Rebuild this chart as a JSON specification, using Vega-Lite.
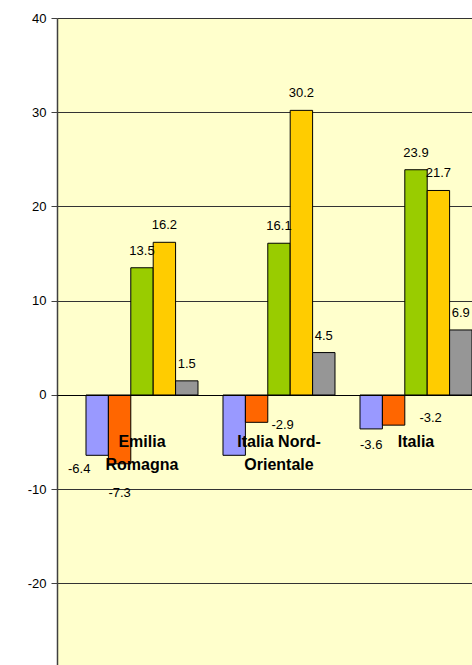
{
  "$schema": "https://vega.github.io/schema/vega-lite/v6.json",
  "width": 415,
  "height": 647,
  "autosize": {"type": "none"},
  "padding": {"left": 57, "top": 18, "right": 0, "bottom": 0},
  "background": "white",
  "config": {
    "view": {"stroke": null, "fill": "#FFFFCC"},
    "font": "Liberation Sans",
    "locale": {"number": {"decimal": ".", "thousands": ",", "grouping": [3], "currency": ["", ""], "minus": "-"}}
  },
  "data": {"values": [
    {"area": "Emilia Romagna", "serie": "Serie 1", "value": -6.4},
    {"area": "Emilia Romagna", "serie": "Serie 2", "value": -7.3},
    {"area": "Emilia Romagna", "serie": "Serie 3", "value": 13.5},
    {"area": "Emilia Romagna", "serie": "Serie 4", "value": 16.2},
    {"area": "Emilia Romagna", "serie": "Serie 5", "value": 1.5},
    {"area": "Italia Nord-Orientale", "serie": "Serie 1", "value": -6.4},
    {"area": "Italia Nord-Orientale", "serie": "Serie 2", "value": -2.9},
    {"area": "Italia Nord-Orientale", "serie": "Serie 3", "value": 16.1},
    {"area": "Italia Nord-Orientale", "serie": "Serie 4", "value": 30.2},
    {"area": "Italia Nord-Orientale", "serie": "Serie 5", "value": 4.5},
    {"area": "Italia", "serie": "Serie 1", "value": -3.6},
    {"area": "Italia", "serie": "Serie 2", "value": -3.2},
    {"area": "Italia", "serie": "Serie 3", "value": 23.9},
    {"area": "Italia", "serie": "Serie 4", "value": 21.7},
    {"area": "Italia", "serie": "Serie 5", "value": 6.9}
  ]},
  "encoding": {
    "x": {
      "field": "area", "type": "nominal",
      "sort": ["Emilia Romagna", "Italia Nord-Orientale", "Italia"],
      "scale": {"paddingInner": 0.1825, "paddingOuter": 0.1058, "align": 1},
      "axis": {
        "title": null, "orient": "bottom", "offset": -270, "zindex": 1,
        "ticks": false, "grid": false, "labelAngle": 0,
        "domainColor": "black", "domainWidth": 1,
        "labelFont": "Liberation Sans", "labelFontSize": 16, "labelFontWeight": "bold",
        "labelColor": "black", "labelBaseline": "top", "labelPadding": 38, "labelLineHeight": 23,
        "labelExpr": "datum.value == 'Emilia Romagna' ? ['Emilia', 'Romagna'] : datum.value == 'Italia Nord-Orientale' ? ['Italia Nord-', 'Orientale'] : datum.value"
      }
    },
    "xOffset": {
      "field": "serie", "type": "nominal",
      "sort": ["Serie 1", "Serie 2", "Serie 3", "Serie 4", "Serie 5"],
      "scale": {"paddingInner": 0, "paddingOuter": 0}
    },
    "y": {
      "field": "value", "type": "quantitative",
      "scale": {"domain": [-28.65, 40], "nice": false, "zero": false},
      "axis": {
        "title": null, "values": [-20, -10, 0, 10, 20, 30, 40],
        "grid": true, "gridColor": "#333333", "gridWidth": 1,
        "domainColor": "#404040", "domainWidth": 1.5,
        "tickColor": "#404040", "tickSize": 6,
        "labelFont": "Liberation Sans", "labelFontSize": 13, "labelColor": "black", "labelPadding": 5
      }
    }
  },
  "layer": [
    {
      "mark": {"type": "bar", "stroke": "black", "strokeWidth": 1, "clip": true},
      "encoding": {
        "color": {
          "field": "serie", "type": "nominal",
          "scale": {"domain": ["Serie 1", "Serie 2", "Serie 3", "Serie 4", "Serie 5"],
                    "range": ["#9999FF", "#FF6600", "#99CC00", "#FFCC00", "#969696"]},
          "legend": null
        }
      }
    },
    {
      "transform": [{"filter": "datum.value > 0"}],
      "mark": {"type": "text", "baseline": "alphabetic", "dy": -13, "fontSize": 13, "color": "black"},
      "encoding": {"text": {"field": "value", "type": "quantitative", "format": ".1f"}}
    },
    {
      "transform": [{"filter": "datum.area == 'Emilia Romagna' && datum.serie == 'Serie 1'"}],
      "mark": {"type": "text", "baseline": "alphabetic", "dy": 18, "dx": -18, "fontSize": 13, "color": "black"},
      "encoding": {"text": {"field": "value", "type": "quantitative", "format": ".1f"}}
    },
    {
      "transform": [{"filter": "datum.area == 'Emilia Romagna' && datum.serie == 'Serie 2'"}],
      "mark": {"type": "text", "baseline": "alphabetic", "dy": 33, "dx": 0, "fontSize": 13, "color": "black"},
      "encoding": {"text": {"field": "value", "type": "quantitative", "format": ".1f"}}
    },
    {
      "transform": [{"filter": "datum.area == 'Italia Nord-Orientale' && datum.serie == 'Serie 2'"}],
      "mark": {"type": "text", "baseline": "alphabetic", "dy": 7, "dx": 26, "fontSize": 13, "color": "black"},
      "encoding": {"text": {"field": "value", "type": "quantitative", "format": ".1f"}}
    },
    {
      "transform": [{"filter": "datum.area == 'Italia' && datum.serie == 'Serie 1'"}],
      "mark": {"type": "text", "baseline": "alphabetic", "dy": 20, "dx": 0, "fontSize": 13, "color": "black"},
      "encoding": {"text": {"field": "value", "type": "quantitative", "format": ".1f"}}
    },
    {
      "transform": [{"filter": "datum.area == 'Italia' && datum.serie == 'Serie 2'"}],
      "mark": {"type": "text", "baseline": "alphabetic", "dy": -3, "dx": 37, "fontSize": 13, "color": "black"},
      "encoding": {"text": {"field": "value", "type": "quantitative", "format": ".1f"}}
    }
  ]
}
